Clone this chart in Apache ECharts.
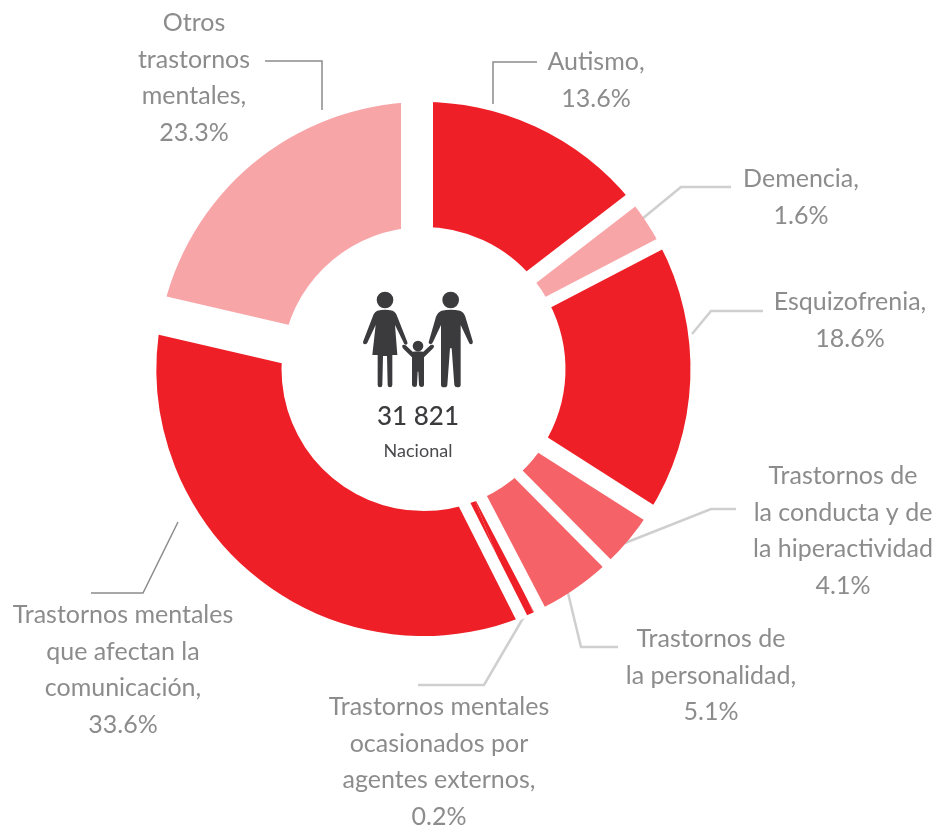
<!DOCTYPE html>
<html>
<head>
<meta charset="utf-8">
<style>
  html, body { margin: 0; padding: 0; background: #fff; }
  #main { width: 935px; height: 825px; }
</style>
<script src="https://cdn.jsdelivr.net/npm/echarts@6/dist/echarts.min.js"></script>
</head>
<body>
<div id="main"></div>
<script>
// labels as printed on the chart
const categories = [
  'Autismo,',
  'Demencia,',
  'Esquizofrenia,',
  'Trastornos de\nla conducta y de\nla hiperactividad',
  'Trastornos de\nla personalidad,',
  'Trastornos mentales\nocasionados por\nagentes externos,',
  'Trastornos mentales\nque afectan la\ncomunicación,',
  'Otros\ntrastornos\nmentales,'
];
const printedPct = ['13.6%', '1.6%', '18.6%', '4.1%', '5.1%', '0.2%', '33.6%', '23.3%'];
// arc share (the drawn arcs differ a bit from the printed numbers)
const arcShare = [14.5, 3.1, 16.8, 3.9, 5.3, 0.8, 34.1, 21.4];
const sliceColors = ['#ee1f26', '#f8a5a8', '#ee1f26', '#f56268', '#f56268', '#ee1f26', '#ee1f26', '#f8a5a8'];

// white cuts after each slice: angle clockwise from 12 o'clock, width px, sideways shift px
// they are not all radial in the original, so they don't follow the arcs exactly
const cuts = [
  [52.4, 15, -7],
  [62.5, 12, -1.7],
  [122.5, 18, 0],
  [135.2, 11, 6.8],
  [152.4, 12, 8.6],
  [153.2, 12, 24.5],
  [283, 39, -6.7],
  [0, 32, -6.5]
];

// label anchor (centre x, top y) and leader line, same order as categories
const labelPos = [
  [596, 44], [801, 161], [850, 284], [843, 458], [711, 621], [439, 689], [123, 597], [194, 5]
];
const leaders = [
  [[493, 104], [493, 62], [537, 62]],
  [[642, 219], [681, 187], [731, 187]],
  [[692, 334], [711, 311], [763, 311]],
  [[625, 543], [711, 509], [736, 509]],
  [[568, 593], [581, 647], [618, 647]],
  [[529, 608], [484, 685], [418, 685]],
  [[178, 522], [143, 593], [91, 593]],
  [[322, 110], [322, 61], [265, 61]]
];
const leaderDark = { color: '#8c8c8c', width: 1.5 };
const leaderLight = { color: '#cfcfcf', width: 2.5 };
const leaderStyles = [leaderDark, leaderLight, leaderLight, leaderLight, leaderLight, leaderLight, leaderDark, leaderDark];

const CX = 423.5, CY = 369;
const START = -1.4; // degrees clockwise from 12 o'clock

const ICON = '#3b3b3e';
const womanPath = 'M112,122 Q135,116 158,122 Q168,126 172,140 L202,216 Q204,224 197,224 Q192,224 190,216 L165,165 L172,255 L157,255 L157,345 Q157,352 150,352 Q143,352 143,345 L141,258 L129,258 L127,345 Q127,352 120,352 Q113,352 113,345 L113,255 L97,255 L107,165 L82,218 Q78,224 72,222 Q67,220 70,213 L98,140 Q102,126 112,122 Z';
const manPath = 'M305,122 Q332,116 360,122 Q372,126 376,140 L398,213 Q400,222 393,223 Q388,223 386,216 L362,165 L362,345 Q362,352 352,352 Q344,352 343,345 L335,235 L330,235 L322,345 Q322,352 312,352 Q303,352 303,345 L303,165 L279,216 Q276,224 270,222 Q264,220 267,213 L288,140 Q293,126 305,122 Z';
const childPath = 'M218,245 Q234,242 250,245 L272,225 Q278,222 282,227 Q283,232 278,236 L252,262 L252,345 Q252,351 245,351 Q238,351 237,345 L235,305 L233,305 L231,345 Q231,351 224,351 Q217,351 216,345 L216,262 L190,236 Q185,231 187,226 Q191,222 197,226 Z';

const myechart = echarts.init(document.getElementById('main'));
myechart.setOption({
  animation: false,
  backgroundColor: '#fff',
  series: [
    {
      type: 'pie',
      center: [CX, CY],
      radius: [142, 267],
      startAngle: 90 - START,
      clockwise: true,
      silent: true,
      minAngle: 0,
      data: arcShare.map((v, i) => ({
        value: v,
        name: categories[i] + '\n' + printedPct[i],
        itemStyle: { color: sliceColors[i] },
        labelLine: { lineStyle: leaderStyles[i] }
      })),
      label: {
        show: true,
        position: 'outside',
        formatter: '{b}',
        fontFamily: 'Lato',
        fontWeight: 400,
        fontSize: 25,
        lineHeight: 36.5,
        color: '#8c8c8c',
        align: 'center',
        overflow: 'none'
      },
      labelLine: {
        show: true
      },
      labelLayout(params) {
        const i = params.dataIndex;
        return {
          x: labelPos[i][0],
          y: labelPos[i][1],
          align: 'center',
          verticalAlign: 'top',
          labelLinePoints: leaders[i]
        };
      }
    },
    {
      // white cuts between the slices, each one has its own width
      type: 'custom',
      coordinateSystem: 'none',
      silent: true,
      z: 3,
      data: cuts,
      renderItem(params, api) {
        const a = api.value(0) * Math.PI / 180;
        const shift = api.value(2);
        const dx = Math.sin(a), dy = -Math.cos(a);
        const ox = CX + Math.cos(a) * shift, oy = CY + Math.sin(a) * shift;
        // stop just past the ring so the leader lines stay visible
        const end = Math.sqrt(269 * 269 - shift * shift);
        return {
          type: 'line',
          shape: {
            x1: ox + dx * 125, y1: oy + dy * 125,
            x2: ox + dx * end, y2: oy + dy * end
          },
          style: { stroke: '#fff', lineWidth: api.value(1) }
        };
      }
    },
    {
      // family icon in the hole
      type: 'custom',
      coordinateSystem: 'none',
      silent: true,
      z: 4,
      data: [[0]],
      renderItem() {
        return {
          type: 'group',
          x: 340,
          y: 270,
          scaleX: 1 / 3,
          scaleY: 1 / 3,
          children: [
            { type: 'circle', shape: { cx: 135, cy: 90, r: 25 }, style: { fill: ICON } },
            { type: 'circle', shape: { cx: 332, cy: 90, r: 25 }, style: { fill: ICON } },
            { type: 'circle', shape: { cx: 234, cy: 228, r: 16 }, style: { fill: ICON } },
            { type: 'path', shape: { pathData: womanPath }, style: { fill: ICON } },
            { type: 'path', shape: { pathData: manPath }, style: { fill: ICON } },
            { type: 'path', shape: { pathData: childPath }, style: { fill: ICON } }
          ]
        };
      }
    }
  ],
  graphic: [
    {
      type: 'text',
      x: 418,
      y: 417,
      style: { text: '31 821', fontFamily: 'Lato', fontSize: 26, fontWeight: 500, fill: ICON, align: 'center', verticalAlign: 'middle' }
    },
    {
      type: 'text',
      x: 418,
      y: 451,
      style: { text: 'Nacional', fontFamily: 'Lato', fontSize: 18, fontWeight: 400, fill: '#4a4a4d', align: 'center', verticalAlign: 'middle' }
    }
  ]
});
</script>
</body>
</html>
